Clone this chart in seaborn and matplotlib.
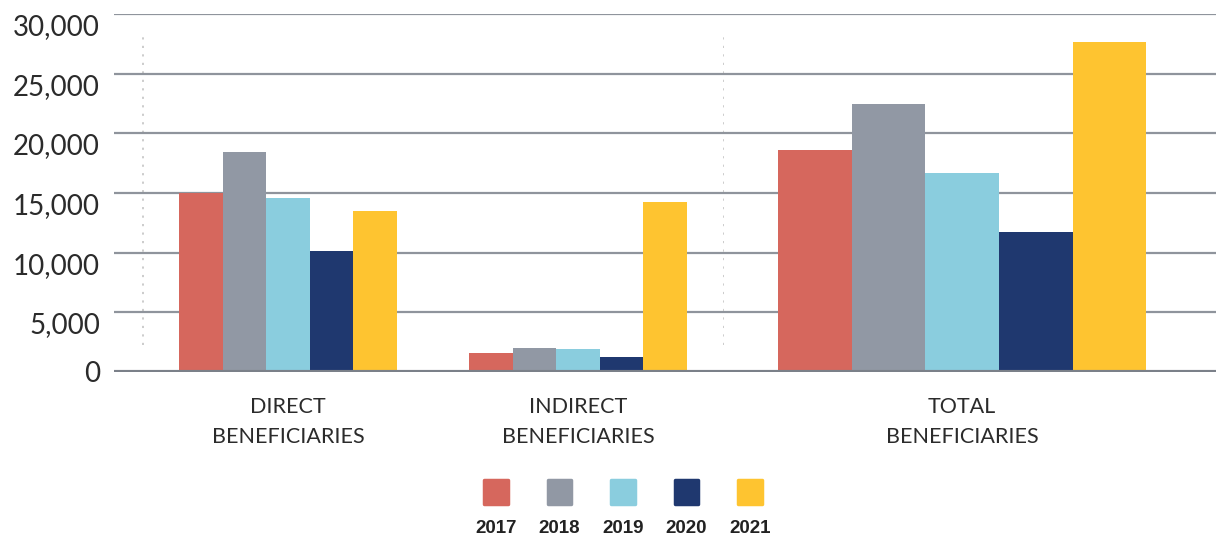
import matplotlib
matplotlib.use("Agg")
import matplotlib.pyplot as plt
import pandas as pd
import seaborn as sns

# data
years = ["2017", "2018", "2019", "2020", "2021"]
direct = [15000, 18400, 14600, 10100, 13500]
indirect = [1600, 2000, 1950, 1250, 14250]
total = [18600, 22450, 16700, 11750, 27650]
categories = ["DIRECT\nBENEFICIARIES", "INDIRECT\nBENEFICIARIES", "TOTAL\nBENEFICIARIES"]
y_ticks = [0, 5000, 10000, 15000, 20000, 25000, 30000]

colors = ["#D6675D", "#9198A4", "#8ACDDE", "#1F386F", "#FEC430"]

rows = []
for cat, vals in zip(categories, [direct, indirect, total]):
    for yr, v in zip(years, vals):
        rows.append({"category": cat, "year": yr, "value": v})
df = pd.DataFrame(rows)

sns.set_style("white")
plt.rcParams["font.family"] = ["Lato", "DejaVu Sans"]

grid_c = "#8f949c"
base_c = "#7b8089"
dot_c = "#c8c8c8"
text_c = "#2b2b2b"

fig = plt.figure(figsize=(12.16, 5.41), dpi=100)
H = 541
W = 1216
bottom = 1 - 372 / H
height = (372 - 14) / H
ax_l = fig.add_axes([114 / W, bottom, 609 / W, height])
ax_r = fig.add_axes([723 / W, bottom, 493 / W, height])

for ax, cats, width in [(ax_l, categories[:2], 0.75), (ax_r, categories[2:], 0.77)]:
    sub = df[df["category"].isin(cats)]
    sns.barplot(data=sub, x="category", y="value", hue="year", order=cats,
                hue_order=years, palette=colors, width=width, gap=0,
                saturation=1, linewidth=0, legend=False, ax=ax)
    ax.set_ylim(0, 30000)
    ax.set_yticks(y_ticks)
    ax.set_xlabel("")
    ax.set_ylabel("")
    for s in ax.spines.values():
        s.set_visible(False)
    ax.set_axisbelow(True)
    ax.yaxis.grid(True, color=grid_c, lw=1.6)
    ax.axhline(0, color=base_c, lw=3, zorder=5)
    ax.axvline(-0.5, ymin=0.075, ymax=0.95, color=dot_c, lw=1.3,
               linestyle=(0, (1.2, 3.5)), zorder=0)
    ax.tick_params(axis="x", length=0, pad=18, labelsize=15.5, labelcolor=text_c)
    ax.tick_params(axis="y", length=0)
    ax.patch.set_alpha(0)
    for lbl in ax.get_xticklabels():
        lbl.set_linespacing(1.6)

ax_l.set_xlim(-0.6, 1.5)
ax_r.set_xlim(-0.5, 0.531)

ax_l.set_yticklabels([f"{v:,}" for v in y_ticks])
ax_l.tick_params(axis="y", pad=10, labelsize=20, labelcolor=text_c)
for lbl in ax_l.get_yticklabels()[1:]:
    lbl.set_va("top")
ax_r.set_yticklabels([])

# legend: swatches above the year labels
ax_leg = fig.add_axes([464.25 / W, 0, 317.5 / W, 71 / H])
ax_leg.set_xlim(-0.5, 4.5)
ax_leg.set_ylim(0, 1)
ax_leg.axis("off")
sw = ax_leg.scatter(range(len(years)), [0.69] * len(years), marker="s", s=290,
                    c=colors, edgecolors=colors, linewidths=2.5)
sw.set_joinstyle("round")
for i, yr in enumerate(years):
    ax_leg.text(i, 0.18, yr, ha="center", va="center", fontsize=13.5,
                fontweight="bold", color="#222222",
                family=["Liberation Sans", "DejaVu Sans"])

fig.savefig("out.png", dpi=100)
